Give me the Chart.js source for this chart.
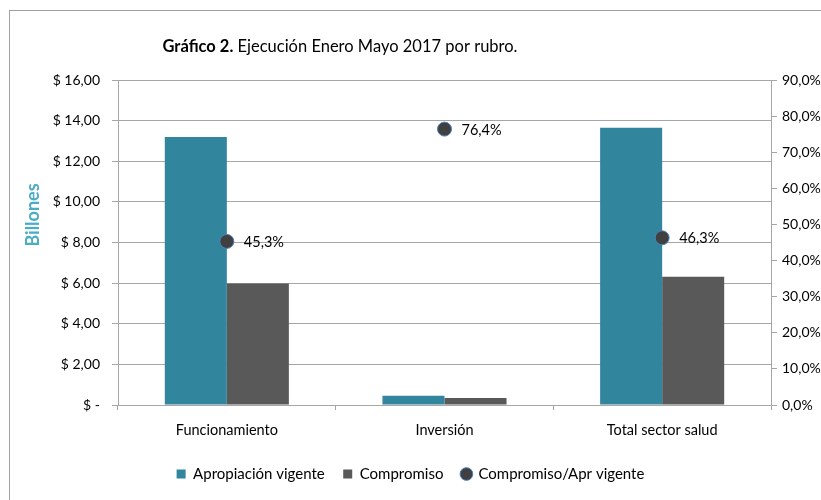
<!DOCTYPE html>
<html>
<head>
<meta charset="utf-8">
<script src="https://cdn.jsdelivr.net/npm/chart.js@4"></script>
<style>
  html, body { margin: 0; padding: 0; background: #fff; }
  #wrap { width: 821px; height: 500px; position: relative; }
</style>
</head>
<body>
<div id="wrap"><canvas id="c" width="821" height="500"></canvas></div>
<script>
const categories = ['Funcionamiento', 'Inversión', 'Total sector salud'];
const apropiacion = [13.20, 0.46, 13.65];
const compromiso = [5.98, 0.35, 6.32];
const ratio = [0.453, 0.764, 0.463];
const ratioLabels = ['45,3%', '76,4%', '46,3%'];
const seriesNames = ['Apropiación vigente', 'Compromiso', 'Compromiso/Apr vigente'];
const titleBold = 'Gráfico 2.';
const titleRest = ' Ejecución Enero Mayo 2017 por rubro.';
const yTitle = 'Billones';

const FONT = 'Lato, "Open Sans", sans-serif';
const GRID = '#a6a6a6';

const decor = {
  id: 'decor',
  beforeDraw(chart) {
    const ctx = chart.ctx;
    ctx.save();
    ctx.strokeStyle = '#a0a0a0';
    ctx.lineWidth = 1;
    ctx.strokeRect(9.5, 10.5, 900, 600);
    ctx.restore();
  },
  afterDraw(chart) {
    const ctx = chart.ctx;
    ctx.save();
    ctx.textBaseline = 'middle';
    ctx.fillStyle = '#000';
    ctx.font = 'bold 16.5px ' + FONT;
    const w1 = ctx.measureText(titleBold).width;
    ctx.font = '16.5px ' + FONT;
    const w2 = ctx.measureText(titleRest).width;
    const x0 = 340 - (w1 + w2) / 2;
    ctx.font = 'bold 16.5px ' + FONT;
    ctx.textAlign = 'left';
    ctx.fillText(titleBold, x0, 47);
    ctx.font = '16.5px ' + FONT;
    ctx.fillText(titleRest, x0 + w1, 47);
    ctx.translate(33, 215);
    ctx.rotate(-Math.PI / 2);
    ctx.textAlign = 'center';
    ctx.fillStyle = '#4bacc6';
    ctx.font = 'bold 18px ' + FONT;
    ctx.fillText(yTitle, 0, 0);
    ctx.restore();
    const meta = chart.getDatasetMeta(2);
    ctx.save();
    ctx.font = '14.5px ' + FONT;
    ctx.fillStyle = '#000';
    ctx.textAlign = 'left';
    ctx.textBaseline = 'middle';
    meta.data.forEach((pt, i) => {
      ctx.fillText(ratioLabels[i], pt.x + 17, pt.y + 1);
    });
    ctx.restore();
  }
};

new Chart(document.getElementById('c'), {
  data: {
    labels: categories,
    datasets: [
      {
        type: 'bar', label: seriesNames[0], data: apropiacion,
        backgroundColor: '#31859c', borderWidth: 0, yAxisID: 'y',
        pointStyle: 'rect', order: 2
      },
      {
        type: 'bar', label: seriesNames[1], data: compromiso,
        backgroundColor: '#595959', borderWidth: 0, yAxisID: 'y',
        pointStyle: 'rect', order: 2
      },
      {
        type: 'line', label: seriesNames[2], data: ratio, yAxisID: 'y1',
        showLine: false, pointStyle: 'circle', pointRadius: 7, pointHoverRadius: 7,
        pointBackgroundColor: '#404040', pointBorderColor: '#4f81bd', pointBorderWidth: 1,
        backgroundColor: '#404040', borderColor: '#4f81bd', borderWidth: 1, order: 1
      }
    ]
  },
  options: {
    responsive: false,
    animation: false,
    events: [],
    layout: { padding: { top: 80, left: 0, right: 0, bottom: 8.5 } },
    datasets: { bar: { categoryPercentage: 0.57, barPercentage: 1.0 } },
    plugins: {
      legend: {
        position: 'bottom',
        labels: {
          usePointStyle: true, boxWidth: 9, boxHeight: 9, padding: 18.5,
          color: '#000', font: { family: FONT, size: 15 },
          sort: (a, b) => a.datasetIndex - b.datasetIndex
        }
      },
      tooltip: { enabled: false },
      title: { display: false }
    },
    scales: {
      x: {
        offset: true,
        grid: { offset: true, drawOnChartArea: false, drawTicks: true, tickLength: 5, color: GRID },
        border: { display: true, color: GRID },
        ticks: { color: '#000', font: { family: FONT, size: 14.5 }, padding: 12 },
        afterFit(s) { s.height = 43; }
      },
      y: {
        position: 'left', min: 0, max: 16,
        ticks: {
          stepSize: 2, color: '#000', font: { family: FONT, size: 14 }, padding: 12,
          callback: v => v === 0 ? '$ -' : '$ ' + v.toFixed(2).replace('.', ',')
        },
        grid: { color: GRID, tickLength: 6 },
        border: { display: true, color: GRID },
        afterFit(s) { s.width = 118; }
      },
      y1: {
        position: 'right', min: 0, max: 0.9,
        ticks: {
          stepSize: 0.1, color: '#000', font: { family: FONT, size: 14 }, padding: 5,
          callback: v => (v * 100).toFixed(1).replace('.', ',') + '%'
        },
        grid: { drawOnChartArea: false, color: GRID, tickLength: 6 },
        border: { display: true, color: GRID },
        afterFit(s) { s.width = 50; }
      }
    }
  },
  plugins: [decor]
});
</script>
</body>
</html>
